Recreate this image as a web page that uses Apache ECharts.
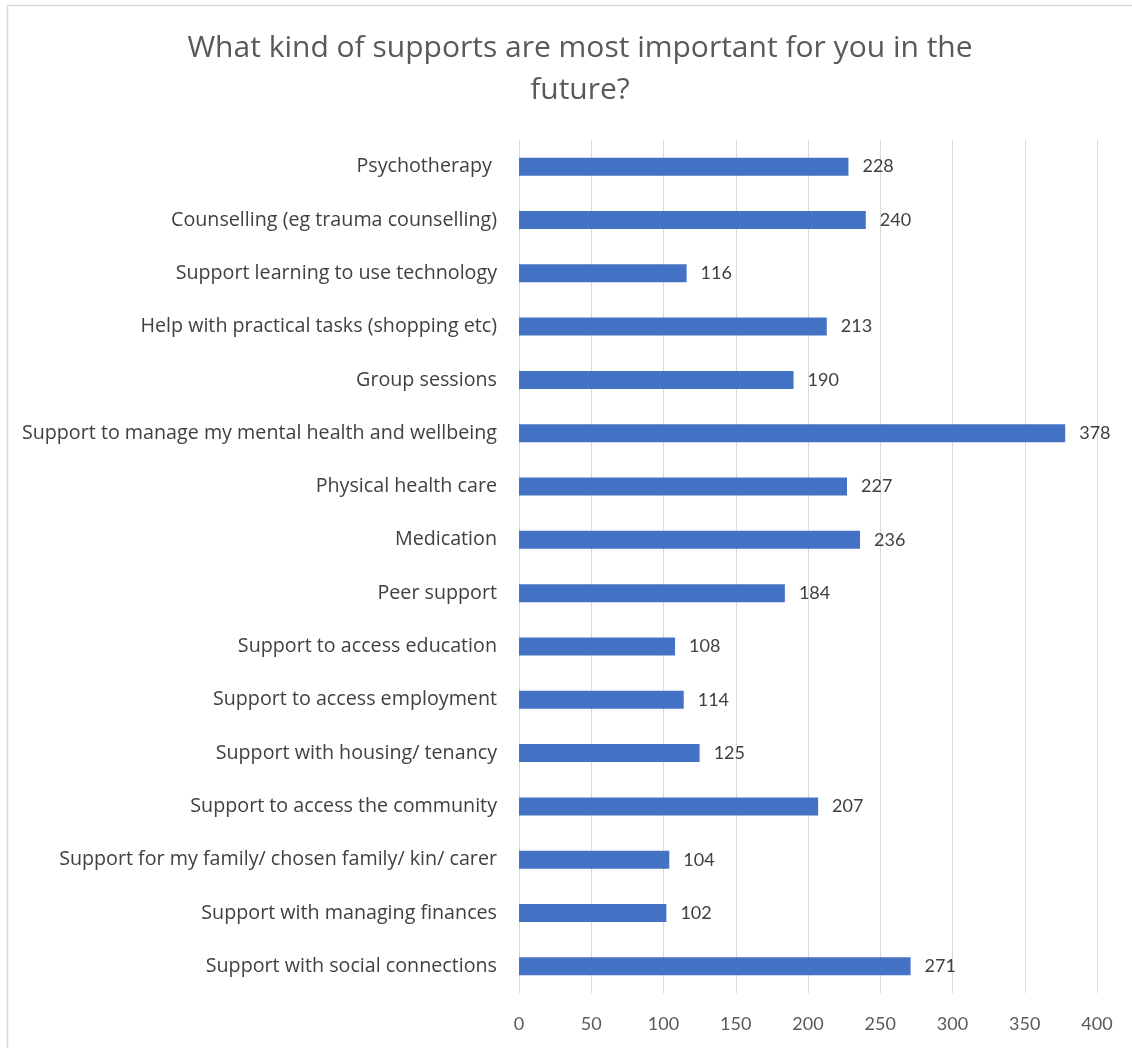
<!DOCTYPE html>
<html>
<head>
<meta charset="utf-8">
<script src="https://cdn.jsdelivr.net/npm/echarts@6/dist/echarts.min.js"></script>
<style>
  html, body { margin: 0; padding: 0; background: #ffffff; }
  #chart { width: 1132px; height: 1048px; }
</style>
</head>
<body>
<div id="chart"></div>
<script>
// Survey responses: which supports matter most in the future (top to bottom)
const categories = [
  'Psychotherapy ',
  'Counselling (eg trauma counselling)',
  'Support learning to use technology',
  'Help with practical tasks (shopping etc)',
  'Group sessions',
  'Support to manage my mental health and wellbeing',
  'Physical health care',
  'Medication',
  'Peer support',
  'Support to access education',
  'Support to access employment',
  'Support with housing/ tenancy',
  'Support to access the community',
  'Support for my family/ chosen family/ kin/ carer',
  'Support with managing finances',
  'Support with social connections'
];
const responses = [228, 240, 116, 213, 190, 378, 227, 236, 184, 108, 114, 125, 207, 104, 102, 271];
const xTicks = [0, 50, 100, 150, 200, 250, 300, 350, 400];
const titleText = 'What kind of supports are most important for you in the\nfuture?';

const FONT = 'Lato, "Open Sans", sans-serif';
const WIDE_FONT = '"Open Sans", Lato, sans-serif';
const chart = echarts.init(document.getElementById('chart'), null, { renderer: 'canvas' });

chart.setOption({
  backgroundColor: '#ffffff',
  animation: false,
  title: {
    text: titleText,
    left: 575,
    top: 22,
    textAlign: 'center',
    textStyle: {
      fontFamily: WIDE_FONT,
      fontSize: 30,
      fontWeight: 'normal',
      color: '#595959',
      lineHeight: 42
    }
  },
  grid: { left: 519, right: 35, top: 140, bottom: 55, containLabel: false },
  xAxis: {
    type: 'value',
    min: xTicks[0],
    max: xTicks[xTicks.length - 1],
    interval: 50,
    axisLine: { show: false },
    axisTick: { show: false },
    splitLine: { show: true, lineStyle: { color: '#d9d9d9', width: 1 } },
    axisLabel: {
      margin: 22,
      fontFamily: FONT,
      fontSize: 18,
      color: '#595959'
    }
  },
  yAxis: {
    type: 'category',
    inverse: true,
    data: categories,
    axisLine: { show: false },
    axisTick: { show: false },
    axisLabel: {
      margin: 22,
      fontFamily: WIDE_FONT,
      fontSize: 19.7,
      color: '#404040'
    }
  },
  series: [{
    type: 'bar',
    data: responses,
    barWidth: 18,
    itemStyle: { color: '#4472c4' },
    label: {
      show: true,
      position: 'right',
      distance: 14,
      fontFamily: FONT,
      fontSize: 18,
      color: '#404040'
    }
  }],
  graphic: [
    { type: 'line', shape: { x1: 7.5, y1: 5, x2: 7.5, y2: 1048 }, style: { stroke: '#d9d9d9', lineWidth: 1.5 } },
    { type: 'line', shape: { x1: 7, y1: 5.5, x2: 1132, y2: 5.5 }, style: { stroke: '#d9d9d9', lineWidth: 1.5 } }
  ]
});
</script>
</body>
</html>
